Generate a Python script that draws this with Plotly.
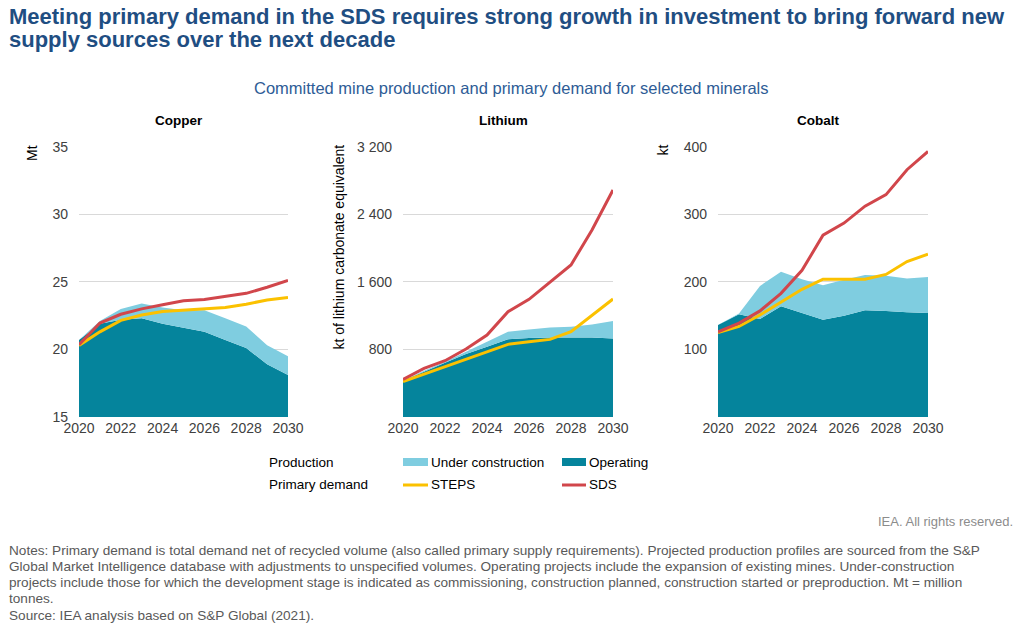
import plotly.graph_objects as go

W, H = 1024, 623

years = list(range(2020, 2031))
x_ticks = [2020, 2022, 2024, 2026, 2028, 2030]

# Copper (Mt)
copper_operating = [20.7, 21.9, 22.2, 22.3, 21.9, 21.6, 21.3, 20.7, 20.1, 18.9, 18.1]
copper_under_construction = [0.0, 0.2, 0.8, 1.1, 1.2, 1.3, 1.6, 1.6, 1.6, 1.4, 1.4]
copper_steps = [20.3, 21.3, 22.15, 22.55, 22.8, 22.9, 22.95, 23.1, 23.35, 23.65, 23.85]
copper_sds = [20.35, 21.95, 22.6, 23.0, 23.3, 23.6, 23.7, 23.9, 24.15, 24.6, 25.1]

# Lithium (kt LCE)
lithium_operating = [429, 536, 642, 745, 832, 919, 934, 942, 942, 942, 930]
lithium_under_construction = [0, 12, 12, 28, 59, 90, 103, 119, 127, 154, 206]
lithium_steps = [418, 505, 595, 686, 773, 860, 891, 919, 1009, 1199, 1397]
lithium_sds = [445, 575, 666, 804, 970, 1247, 1393, 1602, 1800, 2213, 2687]

# Cobalt (kt)
cobalt_operating = [136, 152, 145, 164, 154, 144, 150, 158, 157, 155, 154]
cobalt_under_construction = [0, 1, 49, 51, 50, 51, 53, 52, 52, 50, 53]
cobalt_steps = [125, 134, 151, 170, 189, 204, 204, 204, 211, 230, 241]
cobalt_sds = [126, 139, 157, 183, 217, 269, 287, 312, 329, 366, 393]

copper_yticks = [15, 20, 25, 30, 35]
lithium_yticks = [800, 1600, 2400, 3200]
lithium_yticktext = ["800", "1 600", "2 400", "3 200"]
cobalt_yticks = [100, 200, 300, 400]

C_UC = "#7fcde0"
C_OP = "#05849c"
C_STEPS = "#fbc100"
C_SDS = "#d1464b"
FONT = "Liberation Sans"
TXT = "#404040"

panels = [
    ("Copper", copper_operating, copper_under_construction, copper_steps, copper_sds),
    ("Lithium", lithium_operating, lithium_under_construction, lithium_steps, lithium_sds),
    ("Cobalt", cobalt_operating, cobalt_under_construction, cobalt_steps, cobalt_sds),
]

fig = go.Figure()
for i, (name, op, uc, st, sd) in enumerate(panels):
    sfx = "" if i == 0 else str(i + 1)
    xa, ya = "x" + sfx, "y" + sfx
    fig.add_trace(go.Scatter(x=years, y=op, stackgroup="s" + str(i), mode="none",
                             fillcolor=C_OP, xaxis=xa, yaxis=ya, showlegend=False))
    fig.add_trace(go.Scatter(x=years, y=uc, stackgroup="s" + str(i), mode="none",
                             fillcolor=C_UC, xaxis=xa, yaxis=ya, showlegend=False))
    fig.add_trace(go.Scatter(x=years, y=st, mode="lines", line=dict(color=C_STEPS, width=3),
                             xaxis=xa, yaxis=ya, showlegend=False))
    fig.add_trace(go.Scatter(x=years, y=sd, mode="lines", line=dict(color=C_SDS, width=3),
                             xaxis=xa, yaxis=ya, showlegend=False))

px = lambda v: v / W
py = lambda v: 1 - v / H

ydom = [py(417), py(146.7)]
xdoms = [[px(79), px(288)], [px(403), px(613)], [px(718), px(928)]]
yranges = [[15, 35], [0, 3200], [0, 400]]
ytickvals = [copper_yticks, lithium_yticks, cobalt_yticks]
yticktexts = [[str(v) for v in copper_yticks], lithium_yticktext, [str(v) for v in cobalt_yticks]]

layout = dict(
    width=W, height=H, margin=dict(l=0, r=0, t=0, b=0, pad=0, autoexpand=False),
    autosize=False,
    paper_bgcolor="white", plot_bgcolor="white",
    font=dict(family=FONT, color=TXT, size=14),
    showlegend=False,
)
for i in range(3):
    sfx = "" if i == 0 else str(i + 1)
    layout["xaxis" + sfx] = dict(
        domain=xdoms[i], range=[2020, 2030], tickvals=x_ticks, showgrid=False,
        zeroline=False, showline=False, ticks="", anchor="y" + sfx, automargin=False,
        tickfont=dict(size=14, color=TXT), ticklabelstandoff=1,
    )
    layout["yaxis" + sfx] = dict(
        domain=ydom, range=yranges[i], tickvals=ytickvals[i], ticktext=yticktexts[i],
        showgrid=True, gridcolor="#d9d9d9", gridwidth=1, zeroline=False, showline=False,
        ticks="", anchor="x" + sfx, automargin=False, tickfont=dict(size=14, color=TXT),
        ticklabelstandoff=10,
    )
fig.update_layout(**layout)

ann = []
title_lines = [
    "<b>Meeting primary demand in the SDS requires strong growth in investment to bring forward new</b>",
    "<b>supply sources over the next decade</b>",
]
for t, yy in zip(title_lines, [16, 40]):
    ann.append(dict(x=px(7), y=py(yy), xanchor="left", yanchor="middle", align="left",
                    text=t, font=dict(size=22, color="#1f4e82", family=FONT), showarrow=False))
ann.append(dict(x=px(511), y=py(88), xanchor="center", yanchor="middle",
                text="Committed mine production and primary demand for selected minerals",
                font=dict(size=16.5, color="#2e5c96", family=FONT), showarrow=False))
for i, (name, *_r) in enumerate(panels):
    cx = (xdoms[i][0] + xdoms[i][1]) / 2
    ann.append(dict(x=cx - px(5), y=py(120), xanchor="center", yanchor="middle",
                    text="<b>" + name + "</b>", font=dict(size=13.5, color="#000000", family=FONT),
                    showarrow=False))
for xc, t in [(32, "Mt"), (339, "kt of lithium carbonate equivalent"), (663, "kt")]:
    ann.append(dict(x=px(xc), y=py(143), xanchor="center", yanchor="top", textangle=-90,
                    text=t, font=dict(size=14, color="#000000", family=FONT), showarrow=False))

# legend
shapes = []
leg = [
    (462, "Production", [(403, "Under construction", C_UC, "box"), (562, "Operating", C_OP, "box")]),
    (484, "Primary demand", [(403, "STEPS", C_STEPS, "line"), (562, "SDS", C_SDS, "line")]),
]
for yy, label, items in leg:
    ann.append(dict(x=px(267), y=py(yy), xanchor="left", yanchor="middle", text=label,
                    font=dict(size=13.5, color="#000000", family=FONT), showarrow=False))
    for x0, t, col, kind in items:
        x1 = 428 if x0 == 403 else 586
        if kind == "box":
            shapes.append(dict(type="rect", xref="paper", yref="paper", x0=px(x0), x1=px(x1),
                               y0=py(yy + 4), y1=py(yy - 4), fillcolor=col, line=dict(width=0)))
        else:
            shapes.append(dict(type="line", xref="paper", yref="paper", x0=px(x0), x1=px(x1),
                               y0=py(yy + 1), y1=py(yy + 1), line=dict(color=col, width=3)))
        ann.append(dict(x=px(x1 + 1), y=py(yy), xanchor="left", yanchor="middle", text=t,
                        font=dict(size=13.5, color="#000000", family=FONT), showarrow=False))

ann.append(dict(x=px(1015), y=py(521), xanchor="right", yanchor="middle",
                text="IEA. All rights reserved.", font=dict(size=13, color="#8c8c8c", family=FONT),
                showarrow=False))
notes_lines = [
    "Notes: Primary demand is total demand net of recycled volume (also called primary supply requirements). Projected production profiles are sourced from the S&P",
    "Global Market Intelligence database with adjustments to unspecified volumes. Operating projects include the expansion of existing mines. Under-construction",
    "projects include those for which the development stage is indicated as commissioning, construction planned, construction started or preproduction. Mt = million",
    "tonnes.",
    "Source: IEA analysis based on S&P Global (2021).",
]
notes_y = [550, 566, 582, 598, 615]
for t, yy in zip(notes_lines, notes_y):
    ann.append(dict(x=px(7), y=py(yy), xanchor="left", yanchor="middle", align="left", text=t,
                    font=dict(size=13.6, color="#595959", family=FONT), showarrow=False))
for a in ann:
    a.setdefault("xref", "paper")
    a.setdefault("yref", "paper")
fig.update_layout(annotations=ann, shapes=shapes)

fig.write_html("out.html", config={"displayModeBar": False},
               post_script="document.body.style.margin='0';document.body.style.padding='0';document.body.style.overflow='hidden';")
